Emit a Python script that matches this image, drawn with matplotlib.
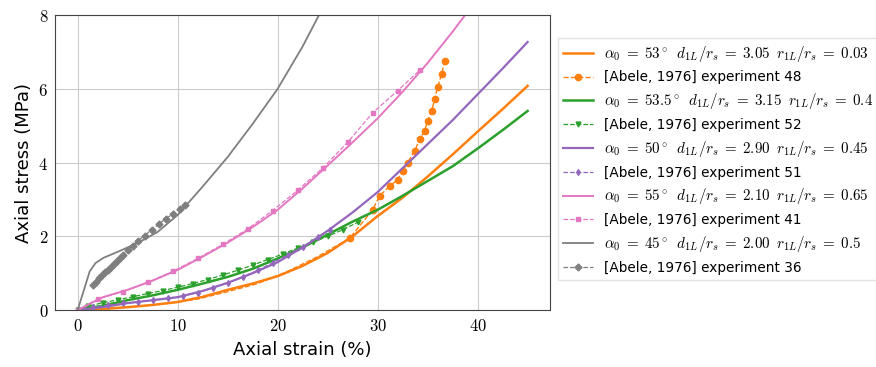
import matplotlib
matplotlib.use("Agg")
import matplotlib.pyplot as plt
from matplotlib.ticker import FuncFormatter

plt.rcParams['mathtext.fontset'] = 'cm'

# Model curves: axial strain (%) vs axial stress (MPa)
strain_model = [0, 2.5, 5, 7.5, 10, 12.5, 15, 17.5, 20, 22.5, 25, 27.5,
                30, 32.5, 35, 37.5, 40, 42.5, 45]
stress_53 = [0, 0.03, 0.08, 0.14, 0.22, 0.36, 0.55, 0.72, 0.92, 1.2, 1.55,
             2.0, 2.55, 3.05, 3.62, 4.22, 4.84, 5.45, 6.08]
stress_535 = [0, 0.12, 0.27, 0.4, 0.55, 0.72, 0.9, 1.12, 1.4, 1.7, 2.05,
              2.4, 2.72, 3.1, 3.5, 3.9, 4.38, 4.88, 5.4]
stress_50 = [0, 0.08, 0.19, 0.27, 0.35, 0.52, 0.74, 1.0, 1.3, 1.7, 2.15,
             2.65, 3.2, 3.85, 4.5, 5.15, 5.85, 6.55, 7.27]
stress_55 = [0, 0.35, 0.55, 0.8, 1.09, 1.45, 1.83, 2.25, 2.72, 3.3, 3.92,
             4.55, 5.2, 5.92, 6.7, 7.55, 8.45, 9.35, 10.25]
strain_45 = [0, 1.2, 1.8, 2.6, 4, 6, 8, 10, 12.5, 15, 17.5, 20, 22.5, 25, 27.5]
stress_45 = [0, 1.05, 1.28, 1.42, 1.58, 1.82, 2.12, 2.58, 3.35, 4.15, 5.05,
             6.0, 7.15, 8.45, 9.8]

# Abele (1976) experiments
exp48_strain = [0, 3, 6, 9, 12, 15, 18, 21, 24, 27.2, 29.5, 30.2, 31.2, 32,
                32.5, 33, 33.7, 34.2, 34.7, 35, 35.4, 35.7, 36, 36.4, 36.7]
exp48_stress = [0, 0.04, 0.1, 0.18, 0.3, 0.5, 0.72, 1.05, 1.45, 1.95, 2.72,
                3.1, 3.36, 3.54, 3.77, 4.0, 4.31, 4.64, 4.86, 5.13, 5.4,
                5.72, 6.05, 6.4, 6.76]
exp52_strain = [0, 1, 2.5, 4, 5.5, 7, 8.5, 10, 11.5, 13, 14.5, 16, 17.5, 19,
                20.5, 22, 23.5, 25, 26.5, 28]
exp52_stress = [0, 0.1, 0.2, 0.28, 0.36, 0.45, 0.53, 0.62, 0.72, 0.83, 0.95,
                1.08, 1.22, 1.37, 1.52, 1.68, 1.84, 2.0, 2.18, 2.38]
exp51_strain = [0, 1.5, 3, 4.5, 6, 7.5, 9, 10.5, 12, 13.5, 15, 16.5, 18,
                19.5, 21, 22.5, 24, 25.2]
exp51_stress = [0, 0.08, 0.13, 0.18, 0.22, 0.27, 0.32, 0.38, 0.47, 0.6,
                0.74, 0.9, 1.08, 1.28, 1.5, 1.72, 1.97, 2.18]
exp41_strain = [0, 2, 4.5, 7, 9.5, 12, 14.5, 17, 19.5, 22, 24.5, 27, 29.5,
                32, 34.2]
exp41_stress = [0, 0.3, 0.5, 0.75, 1.05, 1.4, 1.78, 2.2, 2.7, 3.25, 3.85,
                4.55, 5.35, 5.95, 6.5]
exp36_strain = [1.5, 1.8, 2.1, 2.4, 2.7, 3.0, 3.3, 3.6, 3.9, 4.2, 4.5, 5.0,
                5.5, 6.0, 6.7, 7.4, 8.1, 8.8, 9.5, 10.2, 10.7]
exp36_stress = [0.68, 0.77, 0.86, 0.94, 1.02, 1.1, 1.18, 1.26, 1.34, 1.42,
                1.5, 1.62, 1.75, 1.87, 2.02, 2.18, 2.33, 2.48, 2.6, 2.75,
                2.86]

alpha0 = ['53', '53.5', '50', '55', '45']
d_ratio = ['3.05', '3.15', '2.90', '2.10', '2.00']
r_ratio = ['0.03', '0.4', '0.45', '0.65', '0.5']
model_labels = [
    r'$\alpha_0\;=\;%s^\circ\;\; d_{1L}/r_s\;=\;%s\;\; r_{1L}/r_s\;=\;%s$'
    % (a, d, r) for a, d, r in zip(alpha0, d_ratio, r_ratio)
]
exp_labels = ['[Abele, 1976] experiment 48', '[Abele, 1976] experiment 52',
              '[Abele, 1976] experiment 51', '[Abele, 1976] experiment 41',
              '[Abele, 1976] experiment 36']

fig = plt.figure(figsize=(8.76, 3.67), dpi=100)
ax = fig.add_axes([0.063, 0.155, 0.565, 0.804])

ax.plot(strain_model, stress_53, color='tab:orange', lw=1.8, label=model_labels[0])
ax.plot(exp48_strain, exp48_stress, '--o', color='tab:orange', lw=1, ms=4.5,
        markevery=list(range(9, len(exp48_strain))), label=exp_labels[0])
ax.plot(strain_model, stress_535, color='tab:green', lw=1.8, label=model_labels[1])
ax.plot(exp52_strain, exp52_stress, '--v', color='tab:green', lw=0.9, ms=3.5,
        label=exp_labels[1])
ax.plot(strain_model, stress_50, color='tab:purple', lw=1.6, label=model_labels[2])
ax.plot(exp51_strain, exp51_stress, '--d', color='tab:purple', lw=0.9, ms=3,
        label=exp_labels[2])
ax.plot(strain_model, stress_55, color='tab:pink', lw=1.4, label=model_labels[3])
ax.plot(exp41_strain, exp41_stress, '--s', color='tab:pink', lw=0.9, ms=2.5,
        label=exp_labels[3])
ax.plot(strain_45, stress_45, color='tab:gray', lw=1.3, label=model_labels[4])
ax.plot(exp36_strain, exp36_stress, '--D', color='tab:gray', lw=0.9, ms=3.5,
        label=exp_labels[4])

ax.set_xlim(-2.25, 47.25)
ax.set_ylim(0, 8)
ax.set_xticks([0, 10, 20, 30, 40])
ax.set_yticks([0, 2, 4, 6, 8])
fmt = FuncFormatter(lambda v, p: r'$%d$' % v)
ax.xaxis.set_major_formatter(fmt)
ax.yaxis.set_major_formatter(fmt)
ax.tick_params(labelsize=12, length=0, pad=5)
ax.grid(True, color='#cccccc', lw=0.8)
for s in ax.spines.values():
    s.set_color('#444444')

ax.set_xlabel('Axial strain (%)', fontsize=13)
ax.set_ylabel('Axial stress (MPa)', fontsize=13)

leg = ax.legend(loc='upper left', bbox_to_anchor=(1.016, 0.922), borderaxespad=0,
                fontsize=9.8, labelspacing=0.5, handlelength=2.2, frameon=True,
                fancybox=False, edgecolor='#dddddd')
# math labels read small next to the sans ones, bump them up a little
for txt in leg.get_texts()[::2]:
    txt.set_fontsize(10.8)

fig.savefig('out.png', dpi=100)
